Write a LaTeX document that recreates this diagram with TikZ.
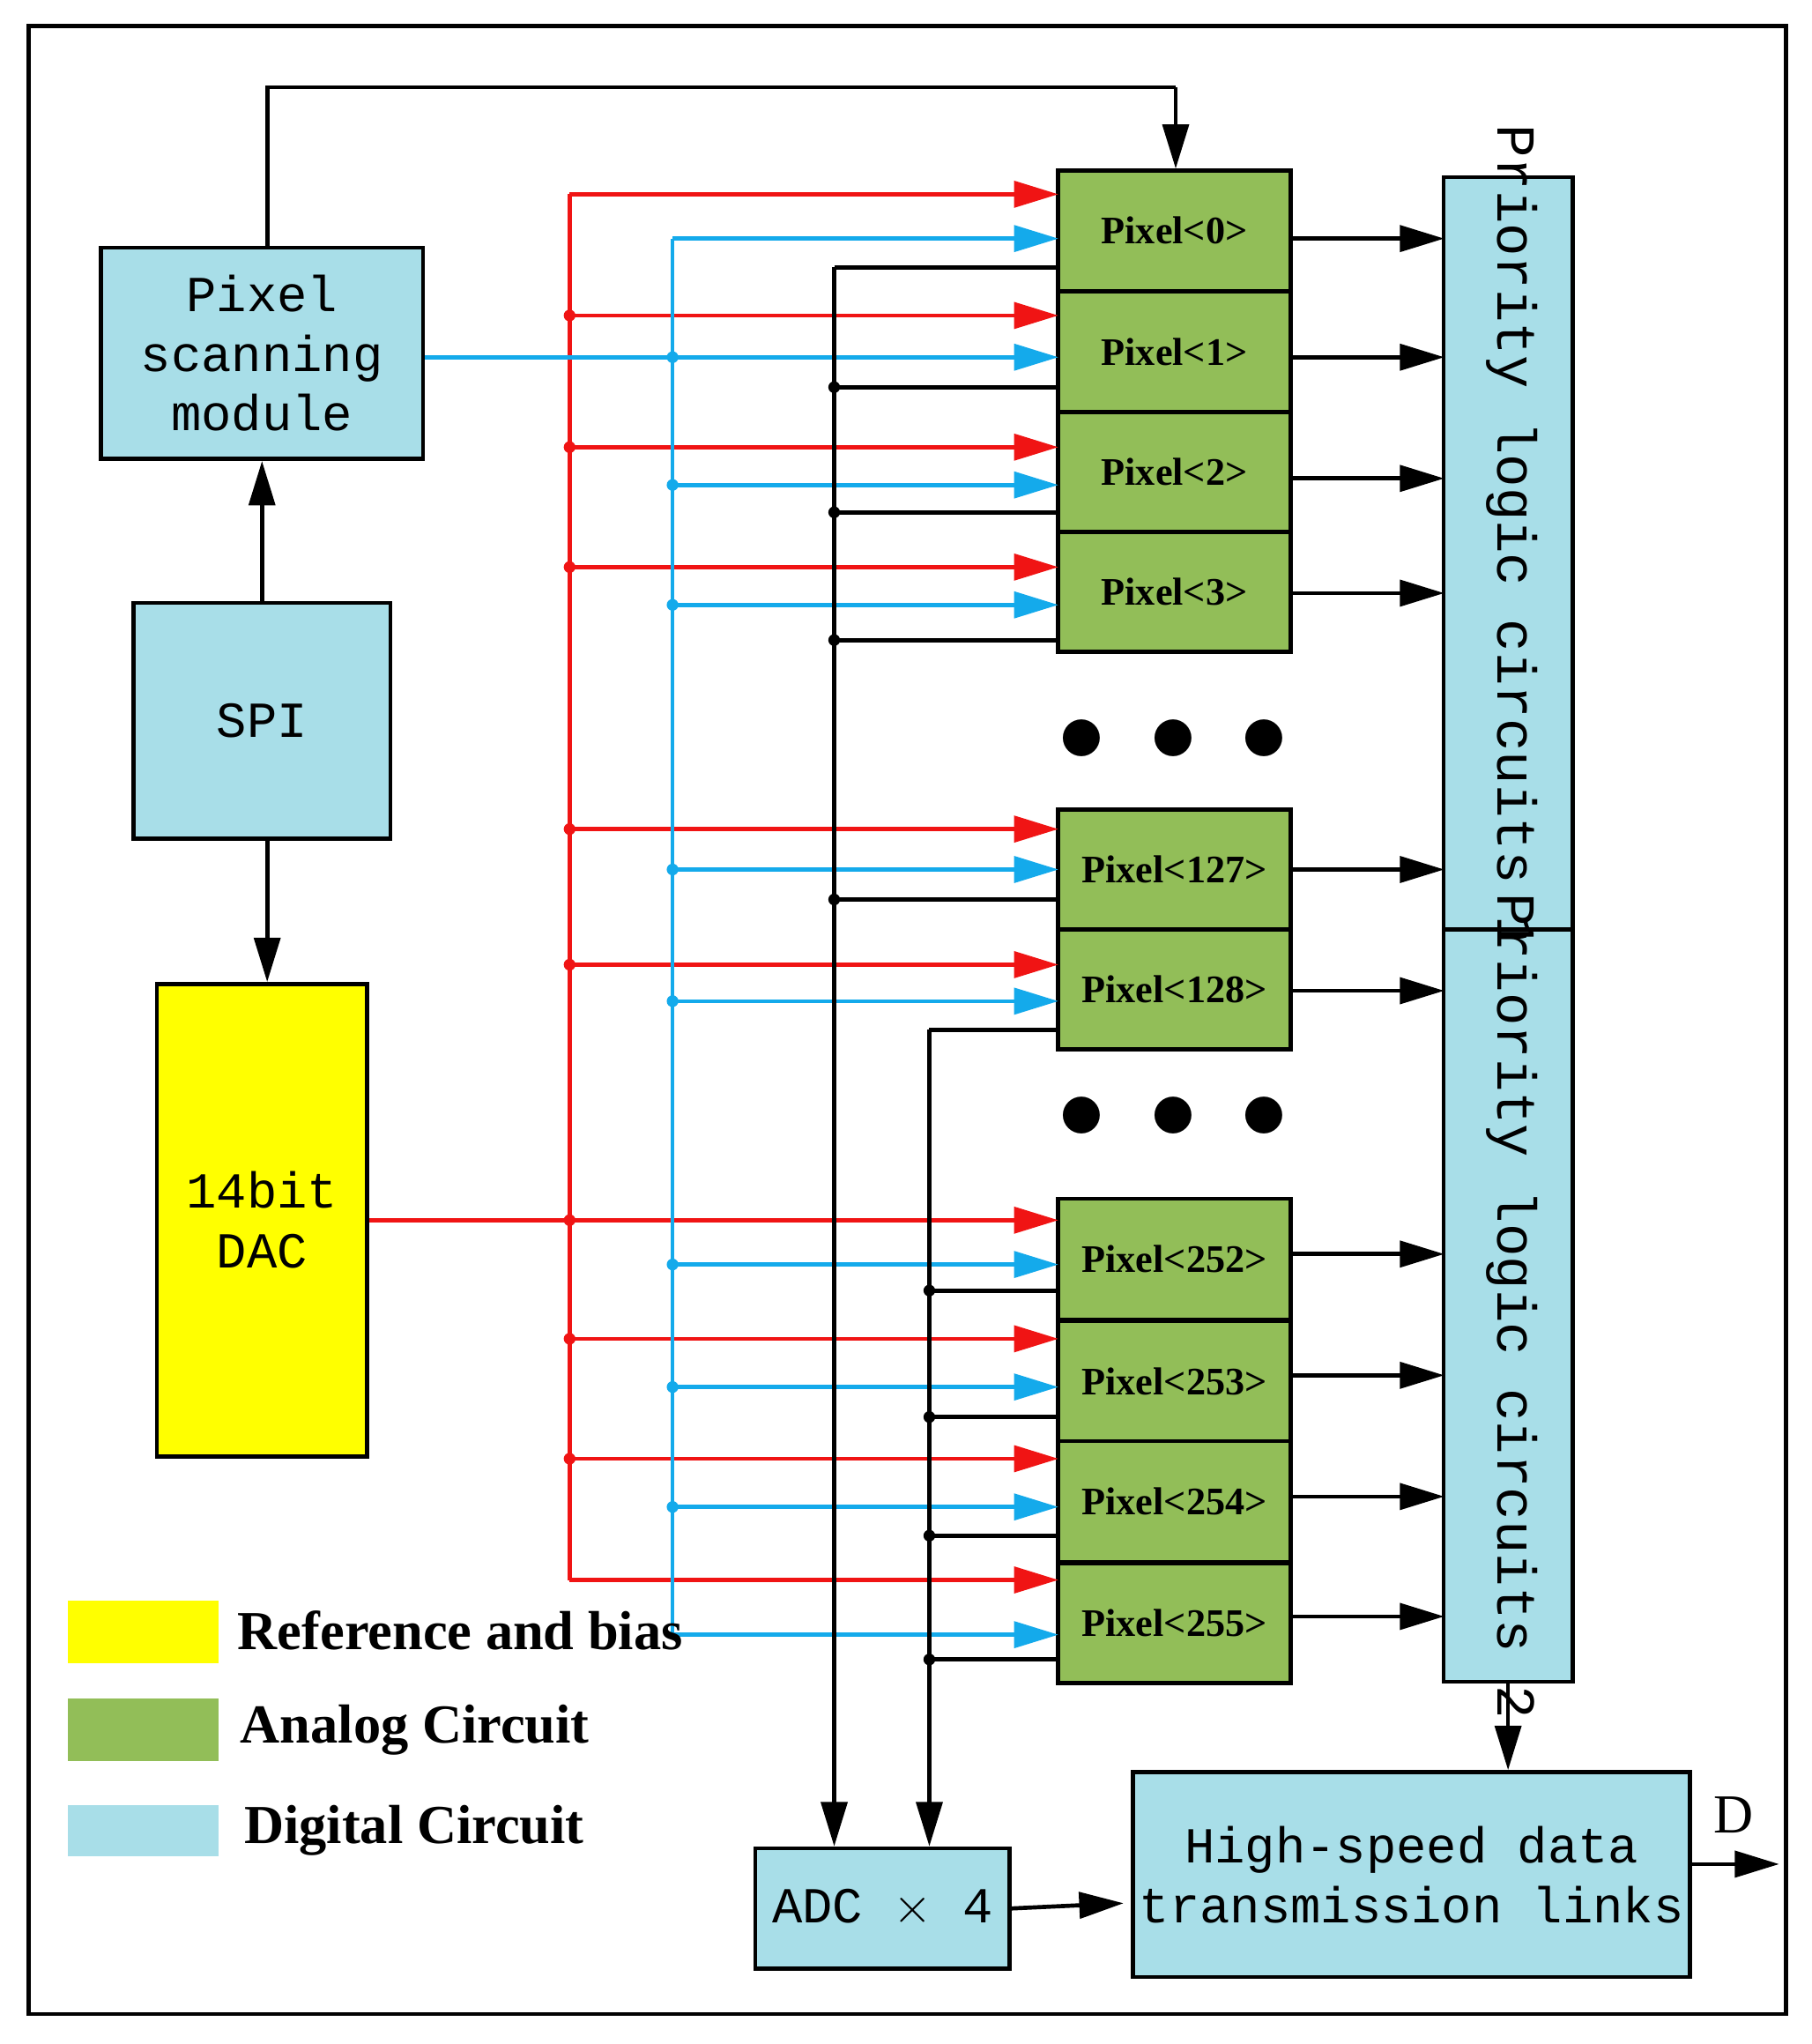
\documentclass[tikz,border=0pt]{standalone}
\usepackage{fontspec}
\setmainfont{Liberation Serif}
\newfontfamily\mono{Liberation Mono}
\usetikzlibrary{arrows.meta,positioning}
\definecolor{dig}{RGB}{168,222,232}
\definecolor{ana}{RGB}{146,190,88}
\definecolor{refc}{RGB}{255,255,0}
\definecolor{rline}{RGB}{240,20,20}
\definecolor{bline}{RGB}{20,170,235}
\tikzset{
  box/.style={draw=black, line width=0.9pt, inner sep=0pt, align=center},
  digbox/.style={box, fill=dig, font=\mono\fontsize{11}{13}\selectfont},
  pix/.style={box, fill=ana, minimum width=1.78cm, font=\bfseries\fontsize{8.5}{10}\selectfont},
  arr/.style={line width=0.9pt, -{Triangle[length=0.34cm,width=0.2cm]}},
  dot/.style={circle, fill, inner sep=0pt, minimum size=0.09cm},
  legend/.style={font=\bfseries\fontsize{12}{14}\selectfont, anchor=west}
}
\begin{document}
\begin{tikzpicture}[x=0.01cm, y=-0.01cm]
  \useasboundingbox (0,0) rectangle (1390,1568);
  % frame
  \draw[line width=0.9pt] (22,20) rectangle (1370,1545);

  % left blocks
  \node[digbox, minimum width=2.47cm, minimum height=1.62cm] (scan) at (201,271) {Pixel\\scanning\\module};
  \node[digbox, minimum width=1.97cm, minimum height=1.81cm] (spi) at (201,553) {SPI};
  \node[box, fill=refc, minimum width=1.61cm, minimum height=3.62cm, font=\mono\fontsize{11}{13}\selectfont] (dac) at (201,936) {};
  \node[font=\mono\fontsize{11}{13}\selectfont, align=center] (dactxt) at (201,936) {14bit\\DAC};

  % pixels
  \foreach \name/\lbl/\yc/\h in {p0/0/177/0.92, p1/1/270/0.93, p2/2/362/0.92, p3/3/454/0.92,
      p127/127/667/0.92, p128/128/759/0.92, p252/252/966/0.93, p253/253/1060/0.93,
      p254/254/1152/0.93, p255/255/1245/0.92}
    \node[pix, minimum height=\h cm] (\name) at (901,\yc) {Pixel<\lbl>};
  \node[font=\fontsize{20}{20}\selectfont] (dots1) at (900,568) {$\bullet\ \bullet\ \bullet$};
  \node[font=\fontsize{20}{20}\selectfont] (dots2) at (900,858) {$\bullet\ \bullet\ \bullet$};

  % priority logic
  \node[digbox, minimum width=0.99cm, minimum height=5.77cm] (pri1) at (1157,424.5) {};
  \node[digbox, minimum width=0.99cm, minimum height=5.77cm] (pri2) at (1157,1001.5) {};
  \node[rotate=-90, font=\mono\fontsize{12}{14}\selectfont] (pri1txt) at (1160,412) {Priority logic circuits 1};
  \node[rotate=-90, font=\mono\fontsize{12}{14}\selectfont] (pri2txt) at (1160,1002) {Priority logic circuits 2};

  % bottom blocks
  \node[digbox, minimum width=4.27cm, minimum height=1.57cm] (hs) at (1083,1438) {High-speed data\\transmission links};
  \node[digbox, minimum width=1.95cm, minimum height=0.92cm] (adc) at (677,1464) {ADC $\times$ 4};

  % control arrows
  \draw[line width=0.9pt] (scan.north -| 205,0) coordinate (s1) -- (205,67) -- (902,67) coordinate (s2);
  \draw[arr] (s2) -- (p0.north -| s2);
  \draw[arr] (spi.north) -- (scan.south);
  \draw[arr] (spi.south -| 205,0) -- (dac.north -| 205,0);
  \draw[arr] (pri2.south) -- (hs.north -| pri2.south);
  \draw[arr] (adc.east) -- (862,1460);
  \draw[arr] (hs.east |- 0,1430) coordinate (d0) -- (1365,1430) coordinate (d1);
  \node[font=\fontsize{12}{14}\selectfont] (dlbl) at (1330,1392) {D};

  % pixel to priority
  \foreach \yy in {183,274,367,455,667} \draw[arr] (990,\yy) -- (1108,\yy);
  \foreach \yy in {760,962,1055,1148,1240} \draw[arr] (990,\yy) -- (1108,\yy);

  % red bus
  \draw[rline, line width=0.9pt] (437,149) -- (437,1212);
  \draw[rline, line width=0.9pt] (dac.east |- 0,936) -- (437,936);
  \foreach \yy in {149,242,343,435,636,740,936,1027,1119,1212}
    \draw[arr, rline] (437,\yy) -- (812,\yy);
  \foreach \yy in {242,343,435,636,740,936,1027,1119}
    \node[dot, rline] at (437,\yy) {};

  % blue bus
  \draw[bline, line width=0.9pt] (516,183) -- (516,1254);
  \draw[bline, line width=0.9pt] (scan.east |- 0,274) -- (516,274);
  \foreach \yy in {183,274,372,464,667,768,970,1064,1156,1254}
    \draw[arr, bline] (516,\yy) -- (812,\yy);
  \foreach \yy in {274,372,464,667,768,970,1064,1156}
    \node[dot, bline] at (516,\yy) {};

  % analog outputs to ADC
  \draw[line width=0.9pt] (812,205) -- (640,205);
  \draw[arr] (640,205) -- (adc.north -| 640,0);
  \foreach \yy in {297,393,491,690} {
    \draw[line width=0.9pt] (812,\yy) -- (640,\yy);
    \node[dot] at (640,\yy) {};
  }
  \draw[line width=0.9pt] (812,790) -- (713,790);
  \draw[arr] (713,790) -- (adc.north -| 713,0);
  \foreach \yy in {990,1087,1178,1273} {
    \draw[line width=0.9pt] (812,\yy) -- (713,\yy);
    \node[dot] at (713,\yy) {};
  }

  % legend
  \fill[refc] (52,1228) rectangle (168,1276);
  \fill[ana] (52,1303) rectangle (168,1351);
  \fill[dig] (52,1385) rectangle (168,1424);
  \node[legend] (l1) at (170,1251) {Reference and bias};
  \node[legend] (l2) at (172,1327) {Analog Circuit};
  \node[legend] (l3) at (175,1404) {Digital Circuit};
\end{tikzpicture}
\end{document}
